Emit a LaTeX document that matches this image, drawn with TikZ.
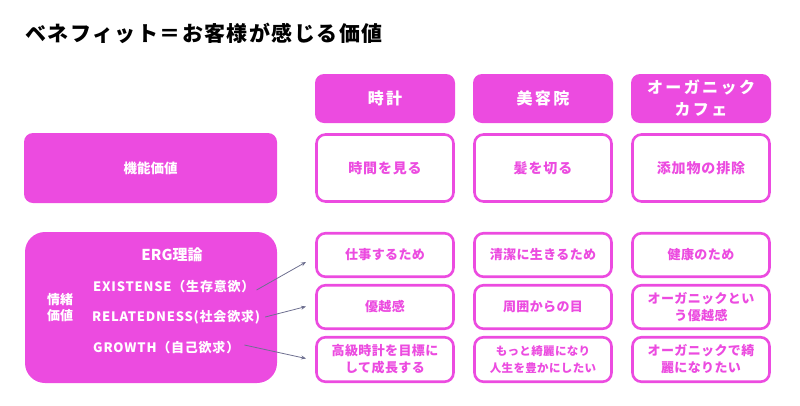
\documentclass[tikz,border=0pt]{standalone}
\usepackage{fontspec}
\setmainfont{Noto Sans CJK JP}
\newfontfamily\jpsp{Noto Sans CJK JP}[LetterSpace=15]
\newfontfamily\jptitle{Noto Sans CJK JP}[LetterSpace=7]
\newfontfamily\jplat{Noto Sans CJK JP}[LetterSpace=6]
\newfontfamily\jpbox{Noto Sans CJK JP}[LetterSpace=3]
\usetikzlibrary{arrows.meta}
\definecolor{mag}{HTML}{EC4BE0}
\definecolor{arrc}{HTML}{6E7090}
\begin{document}
\begin{tikzpicture}[x=1pt,y=-1pt,
  fillbox/.style={fill=mag, rounded corners=9pt, text=white, align=center, inner sep=0pt},
  headbox/.style={fillbox, minimum width=140pt, minimum height=49pt, font=\jpsp\bfseries\fontsize{16}{22}\selectfont},
  outbox/.style={draw=mag, line width=2.6pt, fill=white, rounded corners=9pt, text=mag, align=center, inner sep=0pt, minimum width=137pt, font=\jpbox\bfseries\fontsize{13}{17}\selectfont},
  bigout/.style={outbox, minimum height=67pt, font=\jplat\bfseries\fontsize{14}{17}\selectfont},
  wtext/.style={text=white, font=\jplat\bfseries\fontsize{13}{16}\selectfont, inner sep=0pt, anchor=west},
  arr/.style={draw=arrc, line width=0.8pt, -{Stealth[length=5pt,width=4pt]}}
]
\useasboundingbox (0,0) rectangle (800,405);
% title
\node[anchor=west, inner sep=0pt, font=\jptitle\bfseries\fontsize{21}{24}\selectfont] (title) at (25,33) {ベネフィット＝お客様が感じる価値};
% headers
\node[headbox] (h1) at (385,98.5) {時計};
\node[headbox] (h2) at (543,98.5) {美容院};
\node[headbox] (h3) at (701,98.5) {オーガニック\\カフェ};
% left boxes
\node[fillbox, minimum width=253pt, minimum height=70pt, font=\bfseries\fontsize{13.5}{16}\selectfont] (kino) at (150.5,168) {機能価値};
\node[fillbox, rounded corners=20pt, minimum width=252pt, minimum height=151pt] (jocho) at (151,307.5) {};
\node[text=white, font=\bfseries\fontsize{15}{18}\selectfont, inner sep=0pt] (erg) at (172,255) {ERG理論};
\node[text=white, align=center, font=\bfseries\fontsize{13}{16}\selectfont, inner sep=0pt] (jl) at (60,307.5) {情緒\\価値};
\node[wtext] (ex) at (93,287) {EXISTENSE（生存意欲）};
\node[wtext] (re) at (92,317) {RELATEDNESS(社会欲求)};
\node[wtext] (gr) at (93,348) {GROWTH（自己欲求）};
% row 1
\node[bigout] (a1) at (385,168) {時間を見る};
\node[bigout] (a2) at (543,168) {髪を切る};
\node[bigout] (a3) at (701,168) {添加物の排除};
% row 2
\node[outbox, minimum height=43.5pt] (b1) at (385,255) {仕事するため};
\node[outbox, minimum height=43.5pt] (b2) at (543,255) {清潔に生きるため};
\node[outbox, minimum height=43.5pt] (b3) at (701,255) {健康のため};
% row 3
\node[outbox, minimum height=43.5pt] (c1) at (385,307) {優越感};
\node[outbox, minimum height=43.5pt] (c2) at (543,307) {周囲からの目};
\node[outbox, minimum height=43.5pt] (c3) at (701,307) {オーガニックとい\\う優越感};
% row 4
\node[outbox, minimum height=44.5pt] (d1) at (385,359.5) {高級時計を目標に\\して成長する};
\node[outbox, minimum height=44.5pt, font=\jpbox\bfseries\fontsize{11.5}{17}\selectfont] (d2) at (543,359.5) {もっと綺麗になり\\人生を豊かにしたい};
\node[outbox, minimum height=44.5pt] (d3) at (701,359.5) {オーガニックで綺\\麗になりたい};
% arrows
\coordinate (e1) at (306,262);
\coordinate (e2) at (306,306.5);
\coordinate (e3) at (306,358.5);
\draw[arr] ([xshift=2pt,yshift=-3pt]ex.east) -- (e1);
\draw[arr] ([xshift=5pt]re.east) -- (e2);
\draw[arr] ([xshift=5pt,yshift=3pt]gr.east) -- (e3);
\end{tikzpicture}
\end{document}
